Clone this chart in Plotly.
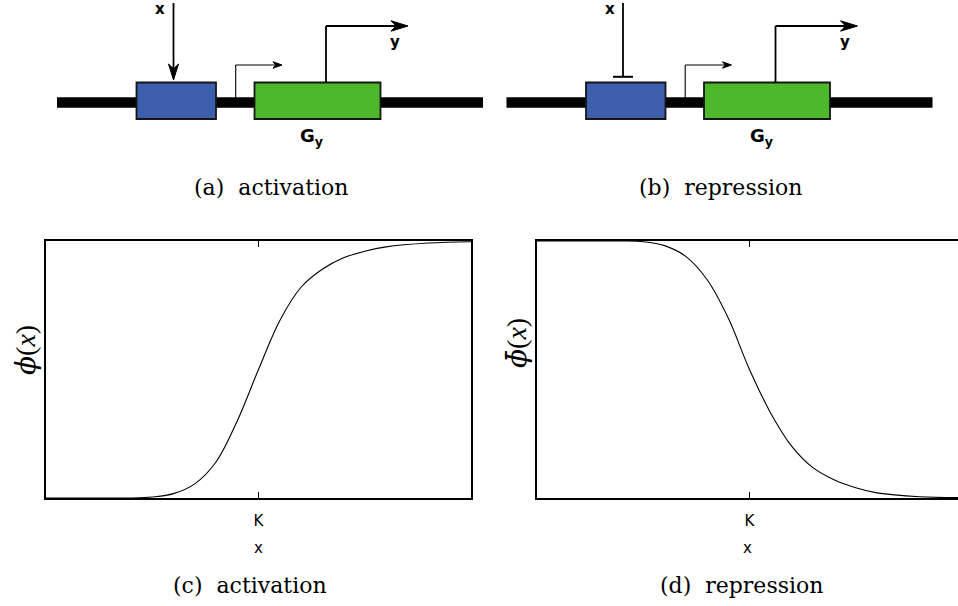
import plotly.graph_objects as go

# Input level in units of K (K = 1) and the regulation functions read along it
x_level = [0.0, 0.2, 0.4, 0.5, 0.6, 0.7, 0.8, 0.9, 1.0, 1.1, 1.2, 1.3, 1.4, 1.5, 1.6, 1.8, 2.0]
phi_activation = [0.0, 0.0, 0.0, 0.004, 0.017, 0.055, 0.14, 0.30, 0.50, 0.69, 0.82, 0.89,
                  0.935, 0.96, 0.977, 0.992, 0.997]
phi_repression = [1.0, 1.0, 1.0, 0.997, 0.982, 0.94, 0.85, 0.70, 0.50, 0.33, 0.20, 0.117,
                  0.07, 0.04, 0.02, 0.005, 0.002]
tick_values = [1.0]
tick_labels = ["K"]

W, H = 958, 606
fig = go.Figure()

fig.add_trace(go.Scatter(x=x_level, y=phi_activation, mode="lines", line_shape="spline",
                         line=dict(color="black", width=1.1), xaxis="x", yaxis="y",
                         showlegend=False, hoverinfo="skip"))
fig.add_trace(go.Scatter(x=x_level, y=phi_repression, mode="lines", line_shape="spline",
                         line=dict(color="black", width=1.1), xaxis="x2", yaxis="y2",
                         showlegend=False, hoverinfo="skip"))


def px(v):
    return v / W


def py(v):
    return 1 - v / H


plot_top, plot_bottom = 241, 498
left_x0, left_x1 = 46, 471
right_x0 = 537
plot_w = left_x1 - left_x0

axis_common = dict(showgrid=False, zeroline=False, linecolor="black", linewidth=1.6)
xfont = dict(family="DejaVu Sans", size=15, color="black")

fig.update_layout(
    width=W, height=H, margin=dict(l=0, r=0, t=0, b=0),
    paper_bgcolor="white", plot_bgcolor="rgba(0,0,0,0)",
    xaxis=dict(domain=[px(left_x0), px(left_x1)], range=[0, 2], showline=True, mirror="allticks",
               ticks="inside", ticklen=6, tickwidth=1.2, tickcolor="black",
               tickvals=tick_values, ticktext=tick_labels, tickfont=xfont, ticklabelstandoff=8,
               title=dict(text="x", font=xfont, standoff=14), anchor="y", **axis_common),
    yaxis=dict(domain=[py(plot_bottom), py(plot_top)], range=[0, 1], showline=True, mirror=True,
               showticklabels=False, ticks="", anchor="x", **axis_common),
    # the right frame runs past the page edge, so its x range stops short of 2
    xaxis2=dict(domain=[px(right_x0), 1], range=[0, 2 * (W - right_x0) / plot_w], showline=True,
                mirror="allticks", ticks="inside", ticklen=6, tickwidth=1.2, tickcolor="black",
                tickvals=tick_values, ticktext=tick_labels, tickfont=xfont, ticklabelstandoff=8,
                title=dict(text="x", font=xfont, standoff=14), anchor="y2", **axis_common),
    yaxis2=dict(domain=[py(plot_bottom), py(plot_top)], range=[0, 1], showline=True, mirror=False,
                showticklabels=False, ticks="", anchor="x2", **axis_common),
    # pixel canvas for the gene schematics and labels
    xaxis3=dict(domain=[0, 1], range=[0, W], visible=False, anchor="y3", fixedrange=True),
    yaxis3=dict(domain=[0, 1], range=[H, 0], visible=False, anchor="x3", fixedrange=True),
)

shapes = []
annotations = []
BLUE = "#3D5EAC"
GREEN = "#4CB82A"
EDGE = "#151515"
sans_bold = dict(family="DejaVu Sans", size=15, color="black")


def seg(x0, y0, x1, y1, w, color="black"):
    shapes.append(dict(type="line", xref="x3", yref="y3", x0=x0, y0=y0, x1=x1, y1=y1,
                       line=dict(color=color, width=w)))


def head(tx, ty, direction, length, half):
    # stealth-style arrowhead; direction 'down' or 'right'
    if direction == "down":
        p = (f"M {tx},{ty} L {tx - half},{ty - length} L {tx},{ty - length * 0.7} "
             f"L {tx + half},{ty - length} Z")
    else:
        p = (f"M {tx},{ty} L {tx - length},{ty - half} L {tx - length * 0.7},{ty} "
             f"L {tx - length},{ty + half} Z")
    shapes.append(dict(type="path", xref="x3", yref="y3", path=p,
                       fillcolor="black", line=dict(color="black", width=1)))


def gene_diagram(ox, repress):
    # DNA strand
    seg(ox + 57, 102.5, ox + 483, 102.5, 10.5)
    # regulator binding site and gene
    shapes.append(dict(type="rect", xref="x3", yref="y3", x0=ox + 136.5, x1=ox + 216, y0=82.5,
                       y1=119, fillcolor=BLUE, line=dict(color=EDGE, width=1.8)))
    shapes.append(dict(type="rect", xref="x3", yref="y3", x0=ox + 254.5, x1=ox + 380.5, y0=82.5,
                       y1=119, fillcolor=GREEN, line=dict(color=EDGE, width=1.8)))
    # input signal x
    seg(ox + 173.5, 3, ox + 173.5, 77 if repress else 70, 1.8)
    if repress:
        seg(ox + 163.5, 76.8, ox + 183.5, 76.8, 2)
    else:
        head(ox + 173.5, 80, "down", 16, 5)
    annotations.append(dict(xref="x3", yref="y3", x=ox + 160, y=9, text="<b>x</b>",
                            showarrow=False, font=sans_bold))
    # promoter
    seg(ox + 235.7, 98, ox + 235.7, 65, 1.1)
    seg(ox + 235.7, 65, ox + 276, 65, 1.1)
    head(ox + 282, 65, "right", 9, 3.2)
    # transcript y
    seg(ox + 326, 82.5, ox + 326, 26, 1.8)
    seg(ox + 326, 26, ox + 398, 26, 1.8)
    head(ox + 408, 26, "right", 17, 5.2)
    annotations.append(dict(xref="x3", yref="y3", x=ox + 395, y=42, text="<b>y</b>",
                            showarrow=False, font=sans_bold))
    annotations.append(dict(xref="x3", yref="y3", x=ox + 311.5, y=137, text="<b>G<sub>y</sub></b>",
                            showarrow=False, font=dict(family="DejaVu Sans", size=18, color="black")))


gene_diagram(0, False)
gene_diagram(449.5, True)

# y-axis labels of the response curves
ylab_font = dict(family="Liberation Serif", size=28, color="black")
phi_span = '<span style="font-family:\'DejaVu Serif\'"><i>{}</i></span>'
annotations.append(dict(xref="x3", yref="y3", x=25, y=350, textangle=-90, showarrow=False,
                        text=phi_span.format("ϕ") + "(<i>x</i>)", font=ylab_font))
annotations.append(dict(xref="x3", yref="y3", x=516, y=343, textangle=-90, showarrow=False,
                        text=phi_span.format("ϕ̄") + "(<i>x</i>)", font=ylab_font))

cap_font = dict(family="DejaVu Serif", size=22, color="black")
for cx, cy, label in [(271, 187, "(a)  activation"), (720, 187, "(b)  repression"),
                      (250, 585, "(c)  activation"), (741, 585, "(d)  repression")]:
    annotations.append(dict(xref="x3", yref="y3", x=cx, y=cy, text=label, showarrow=False,
                            font=cap_font))

fig.update_layout(shapes=shapes, annotations=annotations)
fig.write_html("out.html")
